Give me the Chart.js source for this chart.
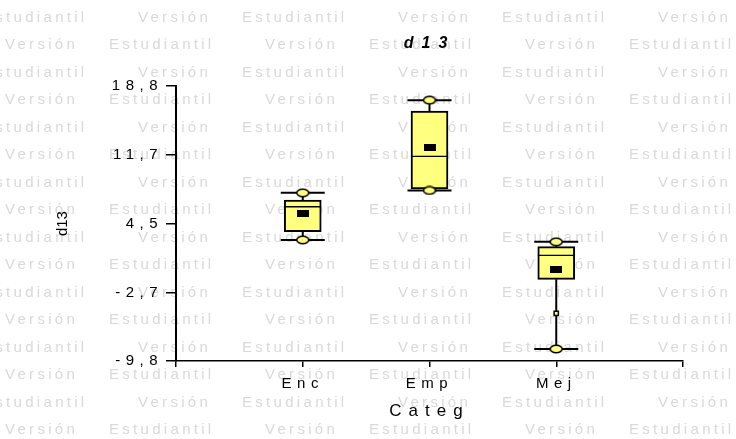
<!DOCTYPE html>
<html><head><meta charset="utf-8">
<script src="https://cdn.jsdelivr.net/npm/chart.js@4/dist/chart.umd.min.js"></script>
<style>html,body{margin:0;padding:0;background:#fff}</style>
</head><body>
<canvas id="c" width="736" height="439"></canvas>
<script>
// ---- data ----
const categories = ['Enc', 'Emp', 'Mej'];
const minVals    = [2.8, 7.95, -8.55];
const q1Vals     = [3.65, 8.1, -1.3];
const medianVals = [6.25, 11.5, 1.2];
const q3Vals     = [6.95, 16.2, 2.1];
const maxVals    = [7.7, 17.35, 2.6];
const meanVals   = [5.5, 12.4, -0.25];
const extraCats  = ['Mej'];
const extraVals  = [-4.85];
const yTickValues = [-9.8, -2.7, 4.5, 11.7, 18.8];
const yTickLabels = ['-9,8', '-2,7', '4,5', '11,7', '18,8'];
const chartTitle = 'd13';
const xTitle = 'Categ';
const yTitle = 'd13';
const watermarkWords = ['Versión', 'Estudiantil'];

const FONT = '"Liberation Sans", Arial, sans-serif';
const YELLOW = '#FFFF80';

// point style images
function ellipseImg() {
  const c = document.createElement('canvas'); c.width = 14; c.height = 10;
  const g = c.getContext('2d');
  g.beginPath(); g.ellipse(7, 5, 6, 3.8, 0, 0, Math.PI * 2);
  g.fillStyle = YELLOW; g.fill(); g.lineWidth = 1.5; g.strokeStyle = '#000'; g.stroke();
  return c;
}
function meanImg() {
  const c = document.createElement('canvas'); c.width = 12; c.height = 7;
  const g = c.getContext('2d'); g.fillStyle = '#000'; g.fillRect(0, 0, 12, 7);
  return c;
}

const canvas = document.getElementById('c');
const ctx = canvas.getContext('2d');
const origFill = ctx.fillText;
ctx.fillText = function (text) {
  const f = this.font || '';
  let sp = '5.5px';
  if (f.indexOf('bold') >= 0) sp = '8px';
  else if (text === yTitle) sp = '0px';
  else if (text === xTitle) sp = '7px';
  this.letterSpacing = sp;
  return origFill.apply(this, arguments);
};

const pos = i => i + 1;
const boxLower = categories.map((c, i) => ({ x: pos(i), y: [q1Vals[i], medianVals[i]] }));
const boxUpper = categories.map((c, i) => ({ x: pos(i), y: [medianVals[i], q3Vals[i]] }));
const whisk = [];
categories.forEach((c, i) => {
  whisk.push({ x: pos(i), y: q3Vals[i] }, { x: pos(i), y: maxVals[i] }, { x: pos(i), y: null });
  whisk.push({ x: pos(i), y: q1Vals[i] }, { x: pos(i), y: minVals[i] }, { x: pos(i), y: null });
});
const extremes = [];
categories.forEach((c, i) => { extremes.push({ x: pos(i), y: minVals[i] }, { x: pos(i), y: maxVals[i] }); });
const means = categories.map((c, i) => ({ x: pos(i), y: meanVals[i] }));
const extras = extraCats.map((c, k) => ({ x: pos(categories.indexOf(c)), y: extraVals[k] }));

const watermarkPlugin = {
  id: 'wm',
  beforeDraw(chart) {
    const g = chart.ctx;
    g.save();
    g.font = '15px ' + FONT;
    g.fillStyle = '#d9d9d9';
    g.textBaseline = 'middle';
    g.textAlign = 'left';
    g.letterSpacing = '3.3px';
    for (let r = 0; r < 16; r++) {
      const y = 17.5 + r * 27.5;
      const start = (r % 2 === 0) ? -122 : 5;
      for (let x = start; x < 736; x += 260) {
        origFill.call(g, watermarkWords[0], x, y);
        origFill.call(g, watermarkWords[1], x + 104, y);
      }
    }
    g.restore();
  }
};

new Chart(ctx, {
  type: 'bar',
  data: {
    datasets: [
      { type: 'scatter', data: means, pointStyle: meanImg(), pointRadius: 6, order: 0 },
      { type: 'scatter', data: extras, pointStyle: 'rect', pointRadius: 3, backgroundColor: YELLOW, borderColor: '#000', borderWidth: 1.5, order: 1 },
      { type: 'scatter', data: extremes, pointStyle: ellipseImg(), pointRadius: 6, order: 2 },
      { type: 'scatter', data: extremes, pointStyle: 'line', pointRadius: 22, borderColor: '#000', borderWidth: 2, order: 3 },
      { type: 'bar', data: boxUpper, backgroundColor: YELLOW, borderColor: '#000', borderWidth: { top: 2, left: 2, right: 2, bottom: 1 }, borderSkipped: false, barThickness: 37, grouped: false, order: 4 },
      { type: 'bar', data: boxLower, backgroundColor: YELLOW, borderColor: '#000', borderWidth: { top: 1, left: 2, right: 2, bottom: 2 }, borderSkipped: false, barThickness: 37, grouped: false, order: 5 },
      { type: 'line', data: whisk, borderColor: '#000', borderWidth: 2, pointRadius: 0, spanGaps: false, fill: false, order: 6 }
    ]
  },
  options: {
    responsive: false,
    animation: false,
    layout: { padding: { left: 0, right: 53, top: 0, bottom: 0 } },
    plugins: {
      legend: { display: false },
      tooltip: { enabled: false },
      title: {
        display: true, text: chartTitle, fullSize: false, color: '#000',
        font: { family: FONT, size: 16, weight: 'bold', style: 'italic' },
        padding: { top: 34, bottom: 33 }
      }
    },
    scales: {
      x: {
        type: 'linear', min: 0, max: 4, offset: false,
        afterBuildTicks: s => { s.ticks = [0, 1, 2, 3, 4].map(v => ({ value: v })); },
        afterFit: s => { s.height = 78; },
        ticks: {
          autoSkip: false, maxRotation: 0, color: '#000', padding: 8,
          font: { family: FONT, size: 15 },
          callback: v => categories[v - 1] || ''
        },
        grid: { offset: false, drawOnChartArea: false, drawTicks: true, tickLength: 6, color: '#000', lineWidth: 1.5 },
        border: { color: '#000', width: 1.5 },
        title: { display: true, text: xTitle, color: '#000', font: { family: FONT, size: 17 }, padding: { top: 0, bottom: 17 } }
      },
      y: {
        type: 'linear', min: -9.8, max: 18.8,
        afterBuildTicks: s => { s.ticks = yTickValues.map(v => ({ value: v })); },
        afterFit: s => { s.width = 176; },
        ticks: {
          autoSkip: false, color: '#000', padding: 3,
          font: { family: FONT, size: 15 },
          callback: (v, i) => yTickLabels[i]
        },
        grid: { drawOnChartArea: false, drawTicks: true, tickLength: 10, color: '#000', lineWidth: 1.5 },
        border: { color: '#000', width: 2 },
        title: { display: true, text: yTitle, color: '#000', font: { family: FONT, size: 15 }, padding: { top: 54, bottom: 0 } }
      }
    }
  },
  plugins: [watermarkPlugin]
});
</script>
</body></html>
